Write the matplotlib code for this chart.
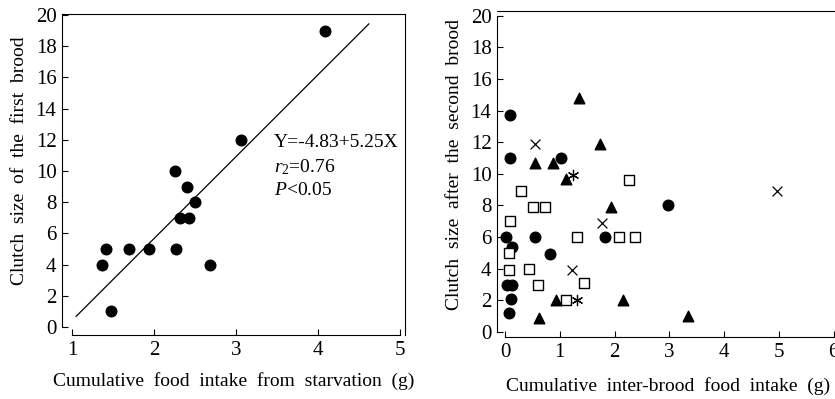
import matplotlib
matplotlib.use("Agg")
import matplotlib.pyplot as plt

plt.rcParams['font.family'] = ['Liberation Serif', 'DejaVu Serif']
plt.rcParams['mathtext.fontset'] = 'custom'
plt.rcParams['mathtext.rm'] = 'Liberation Serif'
plt.rcParams['mathtext.it'] = 'Liberation Serif:italic'

# ---- Left panel data ----
food_starv = [2.26, 2.40, 2.50, 2.32, 2.43, 1.41, 1.69, 1.94, 2.27, 1.36, 2.68, 1.47, 3.06, 4.09]
clutch_first = [10, 9, 8, 7, 7, 5, 5, 5, 5, 4, 4, 1, 12, 19]
fit_intercept = -4.83
fit_slope = 5.25
fit_x = [1.05, 4.62]
left_xticks = [1, 2, 3, 4, 5]
left_yticks = [0, 2, 4, 6, 8, 10, 12, 14, 16, 18, 20]

# ---- Right panel data ----
circ_x = [0.10, 0.10, 1.02, 0.02, 0.13, 0.55, 0.82, 1.82, 2.97, 0.03, 0.13, 0.11, 0.07]
circ_y = [13.7, 11.0, 11.0, 6.0, 5.4, 6.0, 4.9, 6.0, 8.0, 3.0, 3.0, 2.1, 1.2]
tri_x = [1.36, 1.74, 0.55, 0.87, 1.12, 1.94, 0.93, 2.16, 0.62, 3.35]
tri_y = [14.8, 11.9, 10.7, 10.7, 9.7, 7.9, 2.0, 2.0, 0.9, 1.0]
sq_x = [2.27, 0.30, 0.52, 0.73, 0.10, 1.32, 2.09, 2.38, 0.08, 0.08, 0.44, 0.61, 1.45, 1.12]
sq_y = [9.6, 8.9, 7.9, 7.9, 7.0, 6.0, 6.0, 6.0, 5.0, 3.9, 4.0, 3.0, 3.1, 2.05]
cross_x = [0.55, 1.78, 1.22, 4.97]
cross_y = [11.9, 6.9, 3.9, 8.9]
star_x = [1.25, 1.32]
star_y = [9.9, 2.05]
right_xticks = [0, 1, 2, 3, 4, 5, 6]
right_yticks = [0, 2, 4, 6, 8, 10, 12, 14, 16, 18, 20]

W, H = 835, 399
fig = plt.figure(figsize=(W / 100, H / 100), dpi=100)

def style(ax, xb, yb, show_right):
    for s in ax.spines.values():
        s.set_linewidth(0.8)
    ax.spines['left'].set_bounds(*yb)
    ax.spines['bottom'].set_bounds(*xb)
    ax.spines['right'].set_visible(show_right)
    ax.tick_params(direction='in', length=4, width=0.8, labelsize=15,
                   top=False, right=False)
    ax.tick_params(axis='y', pad=4)
    ax.tick_params(axis='x', pad=4)

# Left axes
axL = fig.add_axes([62 / W, (H - 335) / H, 343 / W, 321 / H])
axL.scatter(food_starv, clutch_first, s=58, color='black', zorder=3)
fit_y = [fit_intercept + fit_slope * x for x in fit_x]
axL.plot(fit_x, fit_y, color='black', lw=0.9)
axL.set_xlim(0.878, 5.061)
axL.set_ylim(-0.51, 20.06)
axL.set_xticks(left_xticks)
axL.set_yticks(left_yticks)
style(axL, (1, 5), (0, 20.06), True)
axL.set_xlabel('Cumulative  food  intake  from  starvation  (g)', fontsize=14, labelpad=9)
axL.set_ylabel('Clutch  size  of  the  first  brood', fontsize=14)
axL.yaxis.set_label_coords(-0.10, 0.542)
axL.text(3.46, 11.8, 'Y=-4.83+5.25X', fontsize=14, va='center')
axL.text(3.46, 10.25, r'$\mathit{r}_{2}$=0.76', fontsize=14, va='center')
axL.text(3.46, 8.75, r'$\mathit{P}$<0.05', fontsize=14, va='center')

# Right axes
axR = fig.add_axes([497 / W, (H - 337) / H, 342 / W, 326 / H])
axR.scatter(circ_x, circ_y, s=58, marker='o', color='black', zorder=3)
axR.scatter(tri_x, tri_y, s=58, marker='^', color='black', zorder=3)
axR.scatter(sq_x, sq_y, s=58, marker='s', facecolors='white', edgecolors='black',
            linewidths=1.0, zorder=3)
axR.scatter(cross_x, cross_y, s=50, marker='x', color='black', linewidths=0.9, zorder=3)
axR.scatter(star_x, star_y, s=55, marker=(6, 2, 0), color='black', linewidths=0.9, zorder=3)
axR.set_xlim(-0.146, 6.1)
axR.set_ylim(-0.32, 20.3)
axR.set_xticks(right_xticks)
axR.set_yticks(right_yticks)
style(axR, (0, 6), (0, 20), False)
axR.set_xlabel('Cumulative  inter-brood  food  intake  (g)', fontsize=14, labelpad=11)
axR.set_ylabel('Clutch  size  after  the  second  brood', fontsize=14)
axR.yaxis.set_label_coords(-0.10, 0.528)

fig.savefig('out.png', dpi=100)
